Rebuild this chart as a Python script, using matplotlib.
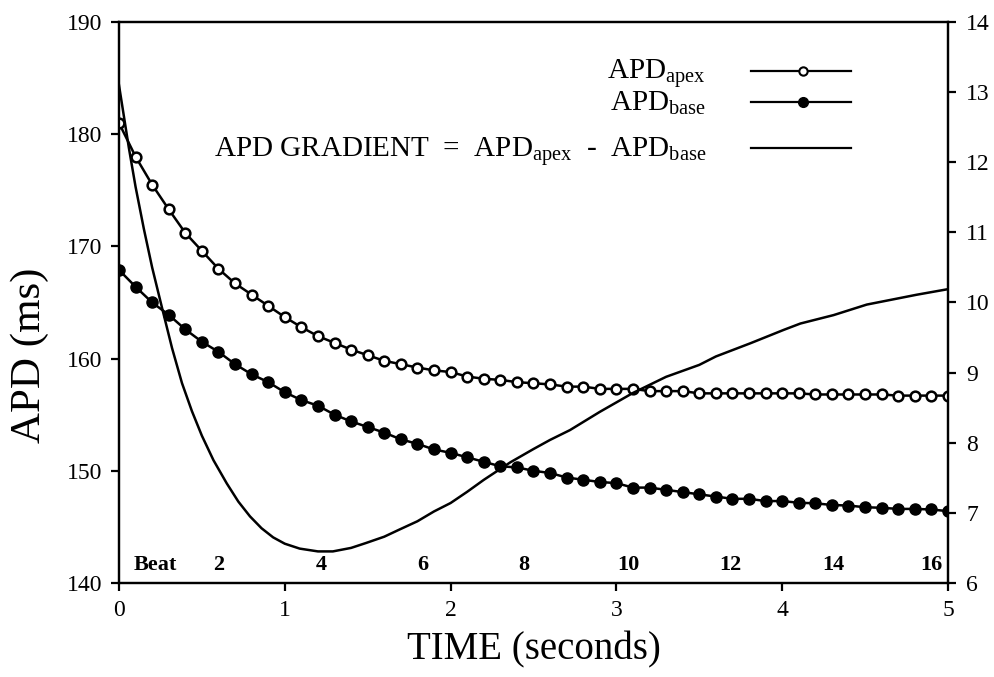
import matplotlib
matplotlib.use("Agg")
import matplotlib.pyplot as plt
import numpy as np
from matplotlib.lines import Line2D

plt.rcParams['font.family'] = ['Liberation Serif', 'DejaVu Serif']
plt.rcParams['mathtext.fontset'] = 'custom'
plt.rcParams['mathtext.rm'] = 'Liberation Serif'
plt.rcParams['mathtext.it'] = 'Liberation Serif:italic'
plt.rcParams['mathtext.bf'] = 'Liberation Serif:bold'

# ---- data ----
time_s = [0.0, 0.1, 0.2, 0.3, 0.4, 0.5, 0.6, 0.7, 0.8, 0.9,
          1.0, 1.1, 1.2, 1.3, 1.4, 1.5, 1.6, 1.7, 1.8, 1.9,
          2.0, 2.1, 2.2, 2.3, 2.4, 2.5, 2.6, 2.7, 2.8, 2.9,
          3.0, 3.1, 3.2, 3.3, 3.4, 3.5, 3.6, 3.7, 3.8, 3.9,
          4.0, 4.1, 4.2, 4.3, 4.4, 4.5, 4.6, 4.7, 4.8, 4.9, 5.0]
apd_apex = [181.0, 178.0, 175.5, 173.3, 171.2, 169.6, 168.0, 166.7, 165.7, 164.7,
            163.7, 162.8, 162.0, 161.4, 160.8, 160.3, 159.8, 159.5, 159.2, 158.95,
            158.8, 158.4, 158.2, 158.1, 157.9, 157.8, 157.7, 157.5, 157.5, 157.3,
            157.3, 157.3, 157.1, 157.1, 157.1, 156.9, 156.9, 156.9, 156.9, 156.9,
            156.9, 156.9, 156.8, 156.8, 156.8, 156.8, 156.8, 156.7, 156.7, 156.7, 156.7]
apd_base = [167.9, 166.4, 165.0, 163.9, 162.6, 161.5, 160.6, 159.5, 158.6, 157.9,
            157.0, 156.3, 155.8, 155.0, 154.4, 153.9, 153.4, 152.8, 152.4, 151.9,
            151.6, 151.2, 150.8, 150.4, 150.3, 150.0, 149.8, 149.4, 149.2, 149.0,
            148.9, 148.5, 148.5, 148.3, 148.1, 147.9, 147.7, 147.5, 147.5, 147.3,
            147.3, 147.15, 147.1, 146.95, 146.9, 146.75, 146.7, 146.6, 146.6, 146.55, 146.4]

grad_time = [0.0, 0.03, 0.06, 0.1, 0.15, 0.2, 0.26, 0.32, 0.38, 0.44, 0.5, 0.57,
             0.65, 0.72, 0.79, 0.86, 0.93, 1.0, 1.09, 1.2, 1.29, 1.4, 1.49, 1.6,
             1.69, 1.8, 1.9, 2.0, 2.1, 2.2, 2.36, 2.5, 2.6,
             2.72, 2.9, 3.1, 3.3, 3.5, 3.6, 3.81, 4.01, 4.11, 4.31, 4.51, 4.81, 5.0]
grad_val = [13.1, 12.65, 12.2, 11.65, 11.05, 10.5, 9.92, 9.35, 8.85, 8.45, 8.1, 7.75,
            7.42, 7.16, 6.95, 6.78, 6.65, 6.56, 6.49, 6.45, 6.45, 6.5, 6.57, 6.66,
            6.76, 6.88, 7.02, 7.14, 7.3, 7.47, 7.72, 7.91, 8.04,
            8.18, 8.44, 8.71, 8.94, 9.11, 9.23, 9.42, 9.61, 9.70, 9.82, 9.97, 10.11, 10.19]

beat_labels = ["Beat", "2", "4", "6", "8", "10", "12", "14", "16"]
beat_pos = [0.22, 0.60, 1.22, 1.83, 2.44, 3.07, 3.69, 4.31, 4.90]

x_ticks = [0, 1, 2, 3, 4, 5]
y_ticks = [140, 150, 160, 170, 180, 190]
y2_ticks = [6, 7, 8, 9, 10, 11, 12, 13, 14]

# ---- figure ----
fig = plt.figure(figsize=(9.94, 6.77), dpi=100)
ax = fig.add_axes([0.1197, 0.1389, 0.8340, 0.8286])
ax2 = ax.twinx()

lw = 1.8
ax.plot(time_s, apd_apex, '-', color='black', lw=lw, marker='o', ms=7,
        mfc='white', mec='black', mew=1.8, zorder=3)
ax.plot(time_s, apd_base, '-', color='black', lw=lw, marker='o', ms=8,
        mfc='black', mec='black', zorder=3)
ax2.plot(grad_time, grad_val, '-', color='black', lw=lw)

ax.set_xlim(0, 5)
ax.set_ylim(140, 190)
ax2.set_ylim(6, 14)
ax.set_xticks(x_ticks)
ax.set_yticks(y_ticks)
ax2.set_yticks(y2_ticks)

for a in (ax, ax2):
    for s in a.spines.values():
        s.set_linewidth(1.6)
ax.tick_params(axis='both', direction='out', length=6, width=1.6,
               labelsize=17, pad=6)
ax2.tick_params(axis='y', direction='out', length=6, width=1.6,
                labelsize=17, pad=7)

ax.set_xlabel("TIME (seconds)", fontsize=28, labelpad=8)
ax.set_ylabel("APD (ms)", fontsize=31)
ax.yaxis.set_label_coords(-0.085, 0.405)

for lab, xp in zip(beat_labels, beat_pos):
    ax.text(xp, 141.6, lab, ha='center', va='center', fontsize=16,
            fontweight='bold')

# custom legend
rows = [
    (r"APD$_{\mathrm{apex}}$", 0.913, dict(marker='o', ms=6, mfc='white', mec='black', mew=1.5)),
    (r"APD$_{\mathrm{base}}$", 0.857, dict(marker='o', ms=7, mfc='black', mec='black')),
    (r"APD GRADIENT  =  APD$_{\mathrm{apex}}$  -  APD$_{\mathrm{base}}$", 0.775, dict()),
]
x_text = (706 - 119) / (948 - 119)
x_l0 = (751 - 119) / (948 - 119)
x_l1 = (851 - 119) / (948 - 119)
x_m = (803 - 119) / (948 - 119)
for txt, yy, mk in rows:
    ax.text(x_text, yy - 0.015, txt, transform=ax.transAxes, ha='right',
            va='baseline', fontsize=21)
    ax.add_line(Line2D([x_l0, x_l1], [yy, yy], transform=ax.transAxes,
                       color='black', lw=1.6, zorder=5))
    if mk:
        ax.add_line(Line2D([x_m], [yy], transform=ax.transAxes,
                           color='black', lw=0, zorder=6, **mk))

fig.savefig("out.png", dpi=100)
